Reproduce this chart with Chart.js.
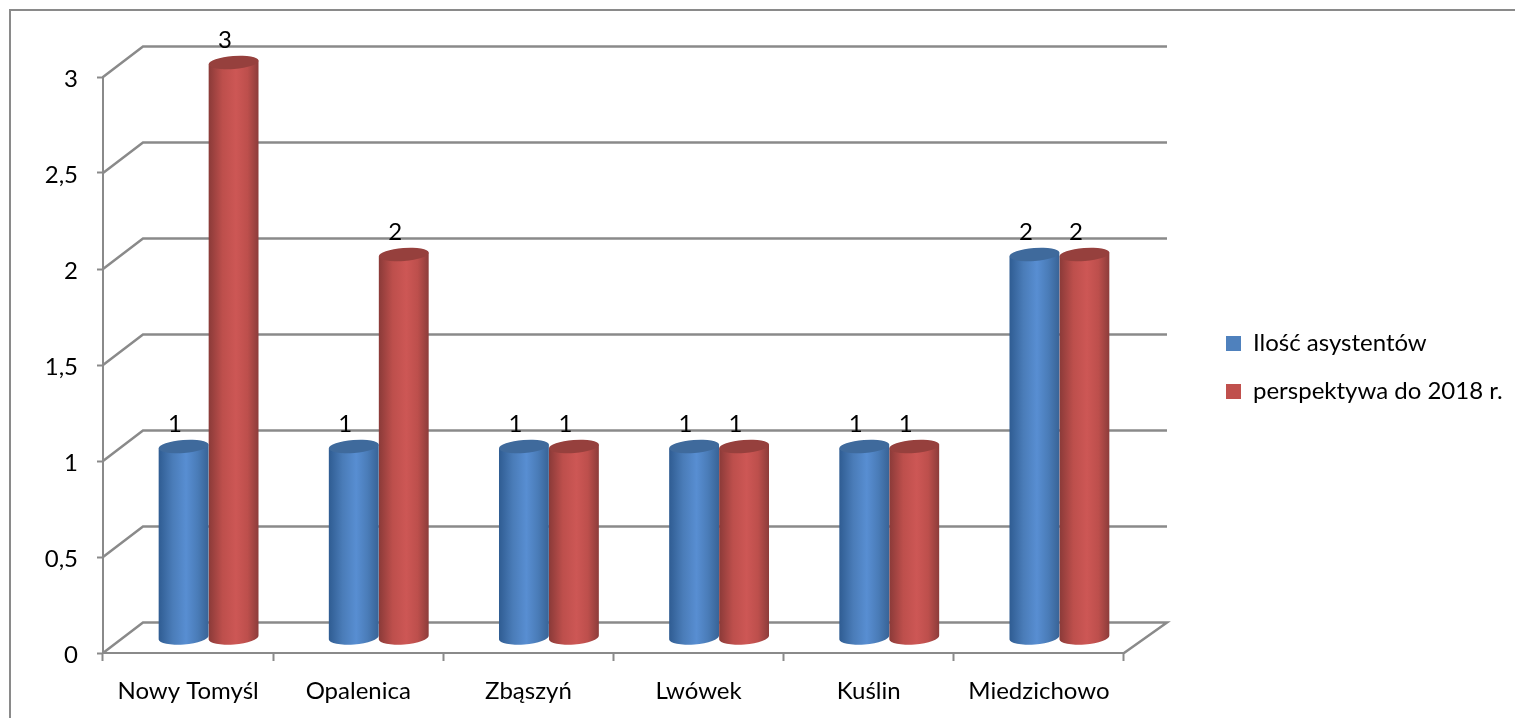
<!DOCTYPE html>
<html><head><meta charset="utf-8">
<style>html,body{margin:0;padding:0;background:#fff}canvas{display:block}</style>
<script src="https://cdn.jsdelivr.net/npm/chart.js@4"></script>
</head><body>
<canvas id="c" width="1515" height="718"></canvas>
<script>
const categories = ['Nowy Tomyśl','Opalenica','Zbąszyń','Lwówek','Kuślin','Miedzichowo'];
const assistants = [1,1,1,1,1,2];
const outlook = [3,2,1,1,1,2];
const seriesNames = ['Ilość asystentów','perspektywa do 2018 r.'];
const FONT = 'Lato';
const GRID = '#8a8a8a';
const DEPTH_L = 40, DEPTH_R = 43, DEPTH_Y = 30.5;
const BAR_DX = 20.5, BAR_DY = -15;
const shades = [
  {edgeL:'#2f5c92',mid1:'#4a7cb8',mid2:'#588ed2',edgeR:'#386396',top:'#3f6a9c'},
  {edgeL:'#8a3a38',mid1:'#bd4f4c',mid2:'#cd5755',edgeR:'#8c3c3a',top:'#96403d'}
];
const TILT = -4.5*Math.PI/180, RY = 6.5;

const scene = {
  id:'scene',
  beforeLayout(chart){
    const l = chart.legend;
    if(!l._fitPatched){
      const fit = l.fit;
      l.fit = function(){ fit.call(this); this.width = 391; };
      l._fitPatched = true;
    }
  },
  afterLayout(chart){
    const l = chart.legend;
    l.left = 1202; l.right = 1515;
    l.top -= 30; l.bottom -= 30;
  },
  beforeDraw(chart){
    const c = chart.ctx;
    c.save();
    c.strokeStyle = GRID; c.lineWidth = 2;
    c.beginPath(); c.moveTo(1515,10); c.lineTo(10,10); c.lineTo(10,718); c.stroke();
    c.restore();
  },
  beforeDatasetsDraw(chart){
    const c = chart.ctx, y = chart.scales.y, a = chart.chartArea;
    c.save();
    c.strokeStyle = GRID; c.lineWidth = 2.5; c.lineJoin='miter';
    y.ticks.forEach(t=>{
      const py = y.getPixelForValue(t.value);
      c.beginPath();
      c.moveTo(a.left,py);
      c.lineTo(a.left+DEPTH_L,py-DEPTH_Y);
      c.lineTo(a.right+DEPTH_R,py-DEPTH_Y);
      if(t.value===0) c.lineTo(a.right,py);
      c.stroke();
    });
    c.restore();
  },
  beforeDatasetDraw(chart,args){
    const c = chart.ctx, meta = args.meta, s = shades[args.index];
    meta.data.forEach(el=>{
      const w = el.width, rx = w/2, cx = el.x+BAR_DX;
      const yTop = el.y+BAR_DY+0.5, yBot = el.base+BAR_DY;
      const ox = rx*Math.cos(TILT), oy = rx*Math.sin(TILT);
      const g = c.createLinearGradient(cx-rx,0,cx+rx,0);
      g.addColorStop(0,s.edgeL); g.addColorStop(.28,s.mid1); g.addColorStop(.55,s.mid2);
      g.addColorStop(.78,s.mid1); g.addColorStop(1,s.edgeR);
      c.save();
      c.fillStyle = g;
      c.beginPath();
      c.moveTo(cx-ox,yTop-oy);
      c.lineTo(cx-ox,yBot-oy);
      c.ellipse(cx,yBot,rx,RY+0.5,TILT,Math.PI,0,true);
      c.lineTo(cx+ox,yTop+oy);
      c.closePath();
      c.fill();
      c.fillStyle = s.top;
      c.beginPath();
      c.ellipse(cx,yTop,rx,RY,TILT,0,Math.PI*2);
      c.fill();
      c.restore();
    });
    return false;
  },
  afterDatasetsDraw(chart){
    const c = chart.ctx;
    c.save();
    c.font = `24px ${FONT}`; c.fillStyle='#000'; c.textAlign='center'; c.textBaseline='middle';
    chart.data.datasets.forEach((d,i)=>{
      chart.getDatasetMeta(i).data.forEach((el,j)=>{
        c.fillText(String(d.data[j]), el.x+12, el.y-36.5);
      });
    });
    c.restore();
  }
};

new Chart(document.getElementById('c'),{
  type:'bar',
  data:{labels:categories,datasets:[
    {label:seriesNames[0],data:assistants,backgroundColor:'#4f81bd',categoryPercentage:100/170.17,barPercentage:1},
    {label:seriesNames[1],data:outlook,backgroundColor:'#c0504d',categoryPercentage:100/170.17,barPercentage:1}
  ]},
  plugins:[scene],
  options:{
    responsive:false,animation:false,
    layout:{padding:{top:77,left:0,right:0,bottom:0},autoPadding:false},
    plugins:{
      tooltip:{enabled:false},
      legend:{display:true,position:'right',align:'center',
        labels:{boxWidth:15,boxHeight:15,padding:24,color:'#000',font:{family:FONT,size:24}}}
    },
    scales:{
      x:{
        afterFit(s){ s.height = 65; },
        offset:true,
        grid:{display:true,offset:true,drawOnChartArea:false,drawTicks:true,tickLength:8,tickColor:GRID,tickWidth:2},
        border:{display:true,color:GRID,width:2},
        ticks:{color:'#000',font:{family:FONT,size:24},padding:16,maxRotation:0,autoSkip:false}
      },
      y:{
        afterFit(s){ s.width = 103; },
        min:0,max:3,
        grid:{display:true,drawOnChartArea:false,drawTicks:true,tickLength:6,tickColor:GRID,tickWidth:2},
        border:{display:true,color:GRID,width:2},
        ticks:{stepSize:.5,color:'#000',font:{family:FONT,size:24},padding:19,labelOffset:2,
          callback:v=>String(v).replace('.',',')}
      }
    }
  }
});
</script>
</body></html>
